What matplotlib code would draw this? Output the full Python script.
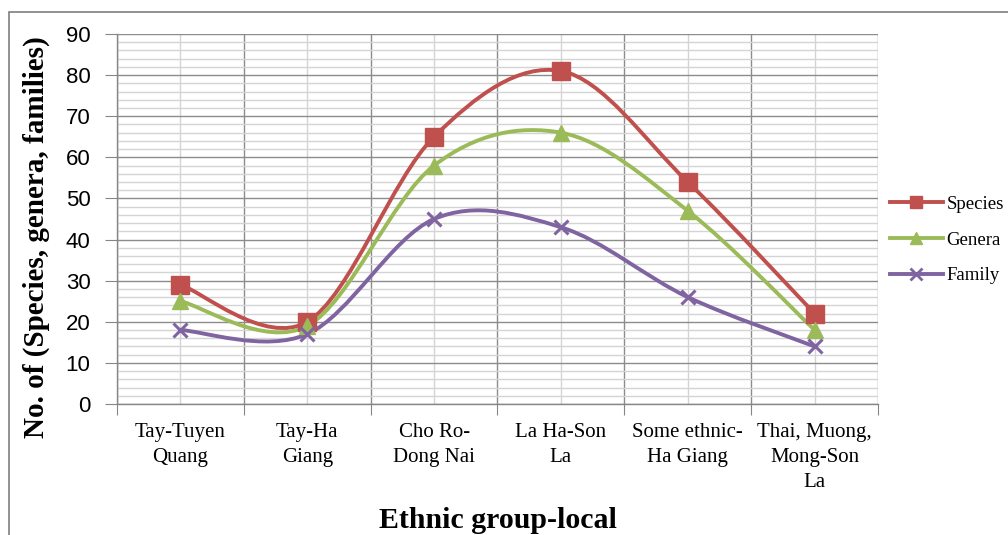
import numpy as np
import matplotlib.pyplot as plt
from matplotlib.path import Path
from matplotlib.patches import PathPatch, Rectangle
from matplotlib.lines import Line2D
from matplotlib.ticker import MultipleLocator, FixedLocator, NullFormatter, FixedFormatter

categories = ["Tay-Tuyen\nQuang", "Tay-Ha\nGiang", "Cho Ro-\nDong Nai",
              "La Ha-Son\nLa", "Some ethnic-\nHa Giang", "Thai, Muong,\nMong-Son\nLa"]
species = [29, 20, 65, 81, 54, 22]
genera = [25, 19, 58, 66, 47, 18]
family = [18, 17, 45, 43, 26, 14]

series = [
    ("Species", species, "#C0504D", "s", 13),
    ("Genera", genera, "#9BBB59", "^", 11),
    ("Family", family, "#8064A2", "x", 10),
]

serif = "Liberation Serif"
sans = ["Liberation Sans", "DejaVu Sans"]


def smooth_path(xs, ys):
    # excel-like smoothed line: cubic bezier segments, catmull-rom control points
    pts = np.column_stack([xs, ys]).astype(float)
    n = len(pts)
    verts = [pts[0]]
    codes = [Path.MOVETO]
    for i in range(n - 1):
        p_prev = pts[max(i - 1, 0)]
        p0 = pts[i]
        p1 = pts[i + 1]
        p_next = pts[min(i + 2, n - 1)]
        c1 = p0 + (p1 - p_prev) / 6.0
        c2 = p1 - (p_next - p0) / 6.0
        verts += [c1, c2, p1]
        codes += [Path.CURVE4] * 3
    return Path(verts, codes)


fig = plt.figure(figsize=(10.08, 5.35), dpi=100)
ax = fig.add_axes([117 / 1008, 1 - 404 / 535, (878 - 117) / 1008, (404 - 34) / 535])

x = np.arange(1, len(categories) + 1)

for name, vals, col, mk, ms in series:
    patch = PathPatch(smooth_path(x, vals), facecolor="none", edgecolor=col,
                      lw=2.8, zorder=3, capstyle="round", joinstyle="round")
    ax.add_patch(patch)
    if mk == "x":
        ax.plot(x, vals, ls="none", marker=mk, ms=ms, mew=2.2, color=col, zorder=4)
    else:
        ax.plot(x, vals, ls="none", marker=mk, ms=ms, color=col, mec=col, zorder=4)

ax.set_xlim(0.5, 6.5)
ax.set_ylim(0, 90)

# x axis: boundaries as major ticks, category centres as minor (labelled)
ax.xaxis.set_major_locator(FixedLocator(np.arange(0.5, 7, 1)))
ax.xaxis.set_major_formatter(NullFormatter())
ax.xaxis.set_minor_locator(FixedLocator(x))
ax.xaxis.set_minor_formatter(FixedFormatter(categories))
ax.tick_params(axis="x", which="major", length=8, color="#868686", direction="out")
ax.tick_params(axis="x", which="minor", length=0, pad=14)
for lab in ax.get_xticklabels(minor=True):
    lab.set_fontfamily(serif)
    lab.set_fontsize(15)
    lab.set_linespacing(1.4)
    lab.set_verticalalignment("top")

ax.yaxis.set_major_locator(MultipleLocator(10))
ax.yaxis.set_minor_locator(MultipleLocator(2))
ax.tick_params(axis="y", which="major", length=9, color="#868686", direction="out",
               labelsize=16, pad=10)
ax.tick_params(axis="y", which="minor", length=0)
for lab in ax.get_yticklabels():
    lab.set_fontfamily(sans)

ax.grid(which="major", color="#8C8C8C", lw=1.0, zorder=0)
ax.grid(which="minor", color="#D4D4D4", lw=1.0, zorder=0)
ax.set_axisbelow(True)
for side in ["top", "right"]:
    ax.spines[side].set_visible(False)
for side in ["left", "bottom"]:
    ax.spines[side].set_color("#868686")
    ax.spines[side].set_linewidth(1.0)

ax.set_ylabel("No. of (Species, genera, families)", fontfamily=serif,
              fontweight="bold", fontsize=21)
ax.yaxis.set_label_coords(-(117 - 50) / 761, 0.45)
fig.text(498 / 1008, 1 - 521 / 535, "Ethnic group-local", fontfamily=serif,
         fontweight="bold", fontsize=21.5, ha="center", va="center")

handles = []
for name, vals, col, mk, ms in series:
    if mk == "x":
        h = Line2D([], [], color=col, lw=2.8, marker=mk, ms=8, mew=2)
    else:
        h = Line2D([], [], color=col, lw=2.8, marker=mk, ms=9, mec=col)
    handles.append(h)
fig.legend(handles, [s[0] for s in series], loc="center left",
           bbox_to_anchor=(890 / 1008, 1 - 240 / 535), frameon=False,
           prop={"family": serif, "size": 13.5}, handlelength=2.8,
           handletextpad=0.2, labelspacing=1.0, borderaxespad=0, borderpad=0)

fig.patches.append(Rectangle((9 / 1008, -0.05), 1.2, 1 - 12 / 535 + 0.05,
                             transform=fig.transFigure, fill=False,
                             edgecolor="#7F7F7F", lw=1.2))

fig.savefig("out.png", dpi=100)
